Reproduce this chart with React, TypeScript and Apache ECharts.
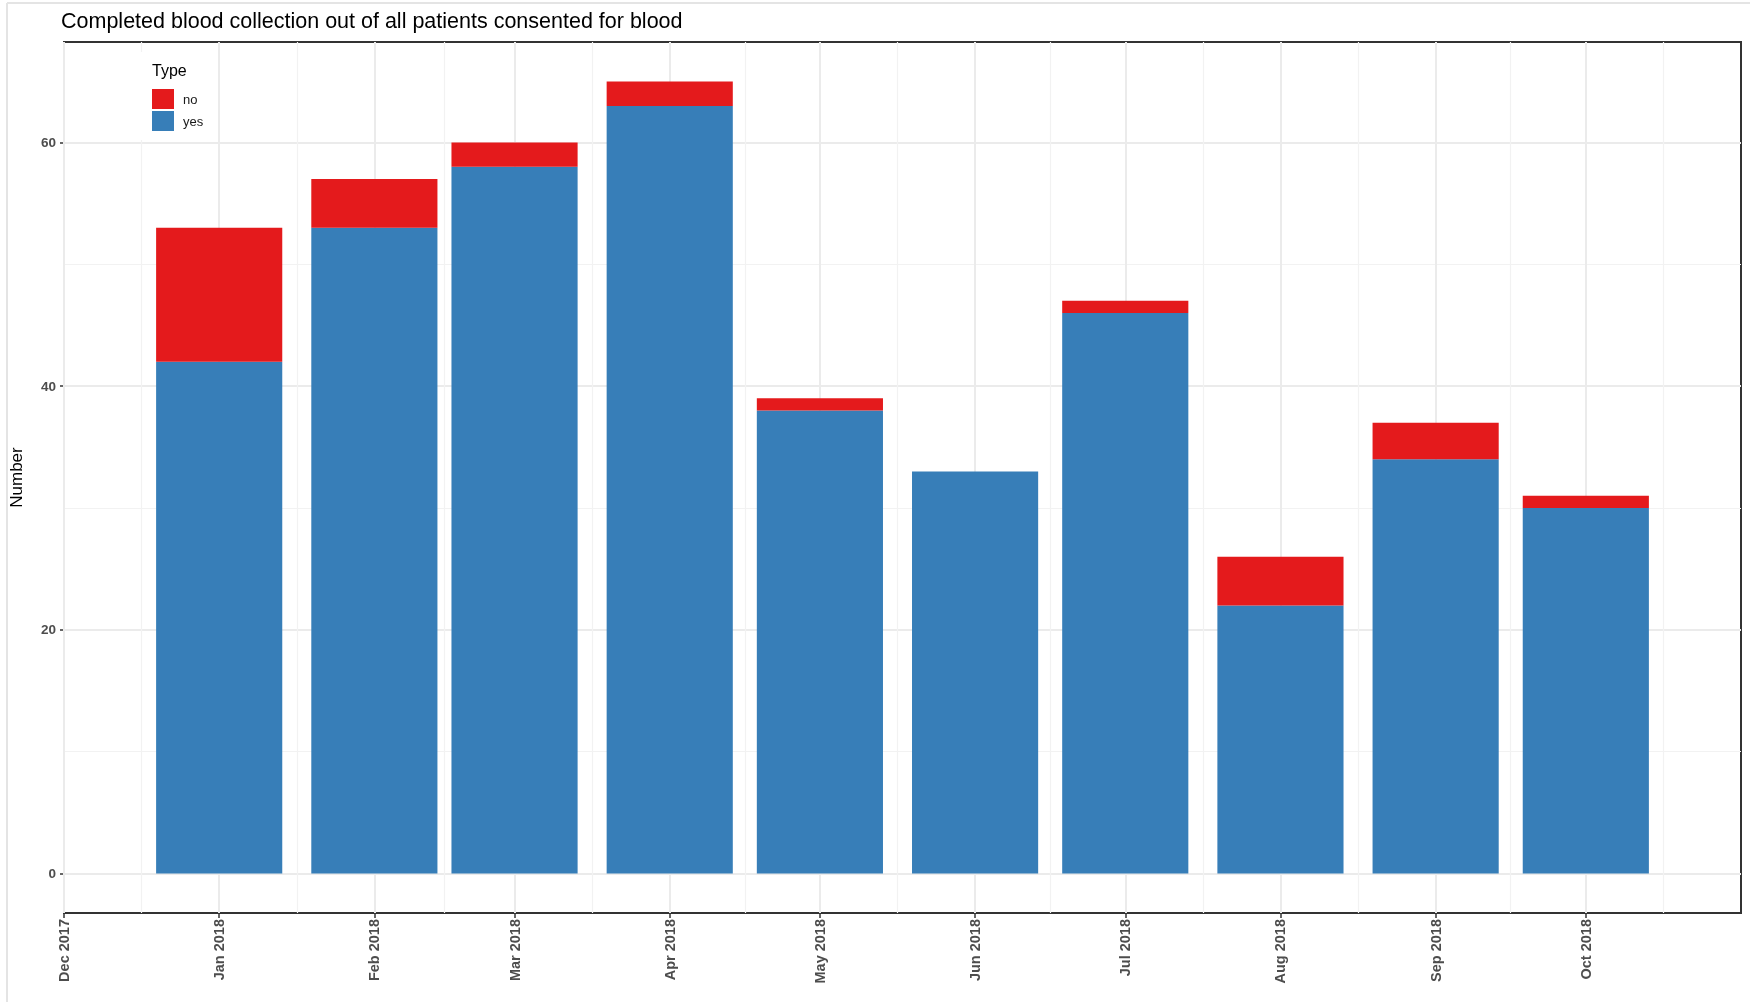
import React, { useEffect, useRef } from "react";
import * as echarts from "echarts";

// ---- data ----
const months = ["2018-01-01", "2018-02-01", "2018-03-01", "2018-04-01", "2018-05-01", "2018-06-01", "2018-07-01", "2018-08-01", "2018-09-01", "2018-10-01"];
const yesValues = [42, 53, 58, 63, 38, 33, 46, 22, 34, 30];
const noValues = [11, 4, 2, 2, 1, 0, 1, 4, 3, 1];
const xTickDates = ["2017-12-01", "2018-01-01", "2018-02-01", "2018-03-01", "2018-04-01", "2018-05-01", "2018-06-01", "2018-07-01", "2018-08-01", "2018-09-01", "2018-10-01"];
const xLimits = ["2017-12-01", "2018-11-01"];
const yTicks = [0, 20, 40, 60];
const yMinorTicks = [10, 30, 50];
const yLimits = [-3.25, 68.25];
const monthNames = ["Jan", "Feb", "Mar", "Apr", "May", "Jun", "Jul", "Aug", "Sep", "Oct", "Nov", "Dec"];
const titleText = "Completed blood collection out of all patients consented for blood";

const DAY = 86400000;
const ts = (s: string) => Date.parse(s + "T00:00:00Z");
const FONT = "'Liberation Sans', Arial, sans-serif";

export default function App() {
  const ref = useRef<HTMLDivElement>(null);
  useEffect(() => {
    if (!ref.current) return;
    const chart = echarts.init(ref.current, null, { renderer: "svg" });
    const tickTs = xTickDates.map(ts);
    const bounds = [...tickTs, ts(xLimits[1])];
    const minorTs: number[] = [];
    for (let i = 0; i < bounds.length - 1; i++) minorTs.push((bounds[i] + bounds[i + 1]) / 2);

    const gridLines: any[] = [];
    yTicks.forEach((v) => gridLines.push({ yAxis: v, lineStyle: { color: "#ebebeb", width: 2, type: "solid" } }));
    yMinorTicks.forEach((v) => gridLines.push({ yAxis: v, lineStyle: { color: "#f2f2f2", width: 1.2, type: "solid" } }));
    tickTs.forEach((v) => gridLines.push({ xAxis: v, lineStyle: { color: "#ebebeb", width: 2, type: "solid" } }));
    minorTs.forEach((v) => gridLines.push({ xAxis: v, lineStyle: { color: "#f2f2f2", width: 1.2, type: "solid" } }));

    const labelFmt = (v: number) => {
      const d = new Date(v);
      return monthNames[d.getUTCMonth()] + " " + d.getUTCFullYear();
    };

    // value first so that the count dimension is the stacked one; date on x
    const dims = ["count", "date"];

    chart.setOption({
      animation: false,
      textStyle: { fontFamily: FONT },
      title: {
        text: titleText,
        left: 61,
        top: 10,
        padding: 0,
        textStyle: { fontFamily: FONT, fontSize: 21.5, fontWeight: "normal", color: "#000" },
      },
      legend: {
        data: ["no", "yes"],
        orient: "vertical",
        left: 140,
        top: 52,
        padding: [37, 11, 9, 12],
        backgroundColor: "#ffffff",
        itemWidth: 22,
        itemHeight: 20,
        itemGap: 2,
        icon: "rect",
        selectedMode: false,
        textStyle: { fontFamily: FONT, fontSize: 13, color: "#1a1a1a", padding: [0, 0, 0, 4] },
        z: 10,
      },
      graphic: [
        { type: "line", shape: { x1: 7, y1: 3, x2: 1750, y2: 3 }, style: { stroke: "#e4e4e4", lineWidth: 2 }, silent: true },
        { type: "line", shape: { x1: 7, y1: 3, x2: 7, y2: 1002 }, style: { stroke: "#e4e4e4", lineWidth: 2 }, silent: true },
        { type: "text", left: 152, top: 62, z: 20, style: { text: "Type", font: "16px " + FONT, fill: "#000" } },
      ],
      grid: {
        left: 61,
        right: 9,
        top: 42,
        bottom: 89,
        show: true,
        borderColor: "#333333",
        borderWidth: 2,
        backgroundColor: "transparent",
      },
      xAxis: {
        type: "value",
        min: ts(xLimits[0]),
        max: ts(xLimits[1]),
        axisLine: { show: false, onZero: false },
        splitLine: { show: false },
        axisTick: { show: true, customValues: tickTs, length: 5, lineStyle: { color: "#333", width: 1.5 } },
        axisLabel: {
          customValues: tickTs,
          rotate: 90,
          margin: 6,
          formatter: labelFmt,
          fontFamily: FONT,
          fontSize: 14.5,
          fontWeight: "bold",
          color: "#4d4d4d",
        },
      },
      yAxis: {
        type: "value",
        min: yLimits[0],
        max: yLimits[1],
        name: "Number",
        nameLocation: "middle",
        nameGap: 39,
        nameTextStyle: { fontFamily: FONT, fontSize: 17, color: "#000" },
        axisLine: { show: false, onZero: false },
        splitLine: { show: false },
        axisTick: { show: true, customValues: yTicks, length: 4, lineStyle: { color: "#333", width: 1.5 } },
        axisLabel: {
          customValues: yTicks,
          margin: 8,
          fontFamily: FONT,
          fontSize: 13.5,
          fontWeight: "bold",
          color: "#4d4d4d",
        },
      },
      series: [
        {
          name: "yes",
          type: "bar",
          stack: "total",
          dimensions: dims,
          encode: { x: "date", y: "count" },
          barWidth: 126,
          itemStyle: { color: "#377EB8" },
          data: months.map((m, i) => [yesValues[i], ts(m)]),
          markLine: {
            silent: true,
            symbol: "none",
            z: 1,
            label: { show: false },
            emphasis: { disabled: true },
            data: gridLines,
          },
        },
        {
          name: "no",
          type: "bar",
          stack: "total",
          dimensions: dims,
          encode: { x: "date", y: "count" },
          barWidth: 126,
          itemStyle: { color: "#E41A1C" },
          data: months.map((m, i) => [noValues[i], ts(m)]),
        },
      ],
    });

    const t0 = ts(months[0]);
    const p0 = chart.convertToPixel({ xAxisIndex: 0 }, t0) as number;
    const p1 = chart.convertToPixel({ xAxisIndex: 0 }, t0 + 0.9 * 28 * DAY) as number;
    const bw = Math.abs(p1 - p0);
    if (isFinite(bw) && bw > 0) {
      chart.setOption({ series: [{ name: "yes", barWidth: bw }, { name: "no", barWidth: bw }] });
    }

    return () => chart.dispose();
  }, []);
  return <div ref={ref} style={{ position: "fixed", left: 0, top: 0, width: 1750, height: 1002 }} />;
}
